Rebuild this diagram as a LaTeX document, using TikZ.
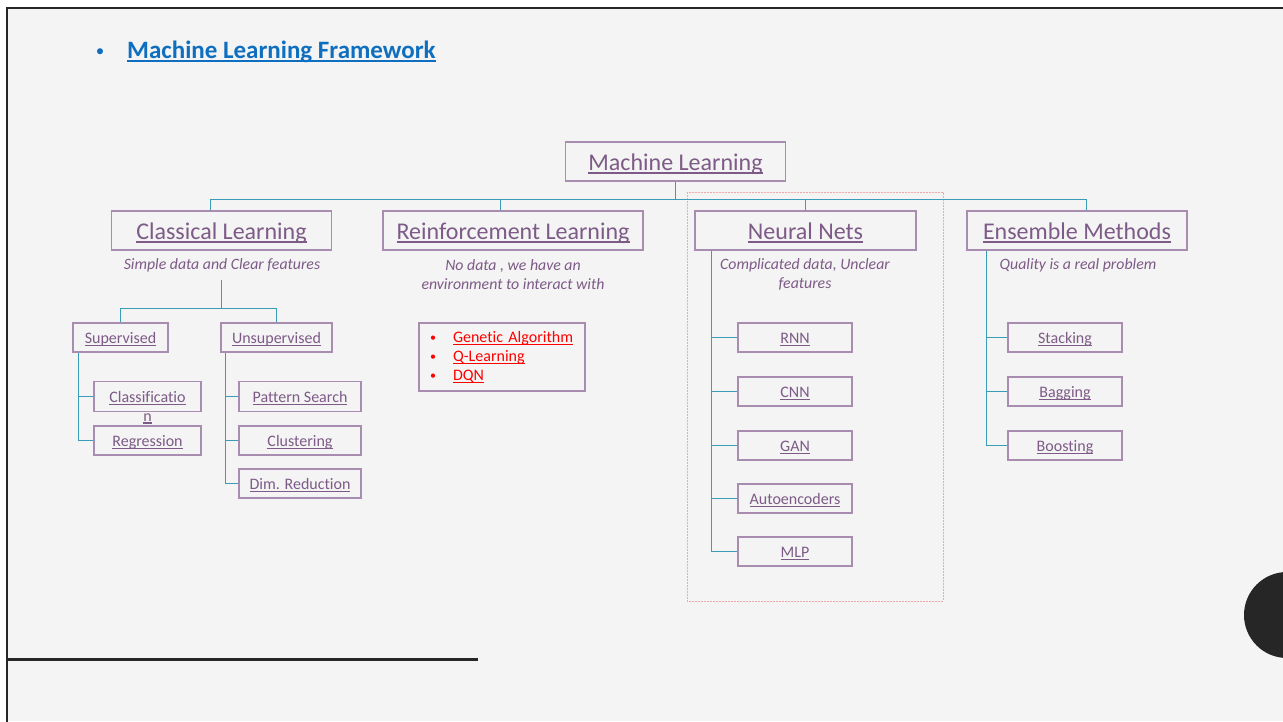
\documentclass[tikz,border=0pt]{standalone}
\usepackage{fontspec}
\setmainfont{Carlito}[Ligatures=NoCommon]
\usetikzlibrary{calc}
% underline drawn as a rule a little below the baseline
\newcommand{\undl}[1]{\leavevmode\setbox0=\hbox{#1}\rlap{\vrule height -0.09em depth 0.16em width \wd0}\box0}
\newcommand{\smallbul}{\raisebox{1pt}{\fontsize{12}{12}\selectfont\textbullet}}
\definecolor{pagebg}{HTML}{F4F4F4}
\definecolor{ink}{HTML}{262626}
\definecolor{txtc}{HTML}{7D5A87}
\definecolor{boxc}{HTML}{A98DB0}
\definecolor{connc}{HTML}{3B9CBA}
\definecolor{titlec}{HTML}{0E6FC0}
\definecolor{pinkc}{HTML}{F2A9A9}
\definecolor{redc}{HTML}{FF0000}
\tikzset{
  boxbase/.style={draw=boxc, line width=1.2pt, text=txtc, inner sep=0pt},
  toplvl/.style={boxbase, font=\fontsize{24}{28}\selectfont, minimum width=#1, minimum height=39,
                 text height=17pt, text depth=0pt},
  leaf/.style={boxbase, font=\fontsize{16}{19}\selectfont, minimum width=#1, minimum height=29,
               text height=11.6pt, text depth=0pt},
  subtitle/.style={text=txtc, font=\fontsize{15.8}{19}\selectfont\itshape, align=center, inner sep=0pt},
  conn/.style={draw=connc, line width=1pt},
  pinkdash/.style={draw=pinkc, line width=0.8pt, dash pattern=on 2pt off 1pt},
}
\begin{document}
\begin{tikzpicture}[x=1pt,y=-1pt]
\useasboundingbox (0,0) rectangle (1283,721);
\begin{scope}
\clip (0,0) rectangle (1283,721);
% page and frame
\fill[white] (0,0) rectangle (1283,721);
\fill[pagebg] (7,8) rectangle (1283,721);
\draw[ink, line width=2.2pt] (7,722) -- (7,8) -- (1284,8);
\fill[ink] (7,657.5) rectangle (478,660.5);
\fill[ink] (1287,615) circle (43);
\end{scope}

% heading
\node[text=titlec, font=\fontsize{17}{20}\selectfont, inner sep=0pt, anchor=base] (hb) at (100,56) {\textbullet};
\node[text=titlec, font=\fontsize{25}{30}\selectfont\bfseries, anchor=base west, inner sep=0pt] (title) at (127,58) {\undl{Machine Learning Framework}};

% dashed frame around the neural-network branch
\draw[pinkdash] (687,192) rectangle (943,601);

% top level
\node[toplvl=220] (ml) at (675.5,161.5) {\undl{Machine Learning}};
\node[toplvl=220] (cl) at (221.5,230.5) {\undl{Classical Learning}};
\node[toplvl=260] (rl) at (513,230.5) {\undl{Reinforcement Learning}};
\node[toplvl=221] (nn) at (805.5,230.5) {\undl{Neural Nets}};
\node[toplvl=220] (en) at (1077,230.5) {\undl{Ensemble Methods}};

% descriptions
\node[subtitle] (clsub) at (222,265) {Simple data and Clear features};
\node[subtitle] (rlsub) at (513,274.5) {No data , we have an\\environment to interact with};
\node[subtitle] (nnsub) at (805,274.5) {Complicated data, Unclear\\features};
\node[subtitle] (ensub) at (1078,265) {Quality is a real problem};

% classical learning subtree
\node[leaf=95] (sup) at (120.5,337.5) {\undl{Supervised}};
\node[leaf=111] (unsup) at (276.5,337.5) {\undl{Unsupervised}};
\node[leaf=107, minimum height=30] (cls) at (147.5,396.5) {\undl{Classificatio}};
\node[text=txtc, font=\fontsize{16}{19}\selectfont, inner sep=0pt, anchor=base] (clsn) at (147.5,421) {\undl{n}};
\node[leaf=107] (reg) at (147.5,440.5) {\undl{Regression}};
\node[leaf=122, minimum height=30] (pat) at (300,396.5) {\undl{Pattern Search}};
\node[leaf=122] (clu) at (300,440.5) {\undl{Clustering}};
\node[leaf=122] (dim) at (300,483.5) {\undl{Dim. Reduction}};

% reinforcement learning list
\node[boxbase, minimum width=166, minimum height=68, text width=150, align=left,
      inner xsep=8pt, text=redc, font=\fontsize{16}{19}\selectfont] (rlist) at (502,357)
  {\makebox[26pt][l]{\hspace{3pt}\smallbul}\undl{Genetic Algorithm}\\
   \makebox[26pt][l]{\hspace{3pt}\smallbul}\undl{Q-Learning}\\
   \makebox[26pt][l]{\hspace{3pt}\smallbul}\undl{DQN}};

% neural nets subtree
\node[leaf=114] (rnn) at (795,337.5) {\undl{RNN}};
\node[leaf=114] (cnn) at (795,391.5) {\undl{CNN}};
\node[leaf=114] (gan) at (795,445.5) {\undl{GAN}};
\node[leaf=114] (ae) at (795,498.5) {\undl{Autoencoders}};
\node[leaf=114] (mlp) at (795,551.5) {\undl{MLP}};

% ensemble subtree
\node[leaf=114] (stk) at (1065,337.5) {\undl{Stacking}};
\node[leaf=114] (bag) at (1065,391.5) {\undl{Bagging}};
\node[leaf=114] (bst) at (1065,445.5) {\undl{Boosting}};

% connectors: root bus
\coordinate (mlj) at ($(ml.south)+(0,17.5)$);
\coordinate (clt) at ($(cl.north west)+(100,0)$);
\coordinate (rlt) at ($(rl.north west)+(118.5,0)$);
\coordinate (ent) at ($(en.north west)+(120.5,0)$);
\draw[conn] (ml.south) -- (mlj);
\draw[conn] (clt) |- (mlj) -| (ent);
\draw[conn] (rlt) -- (rlt |- mlj);
\draw[conn] (nn.north) -- (nn.north |- mlj);

% connectors: classical learning
\coordinate (clj) at ($(cl.south)+(0,29)$);
\coordinate (clbus) at ($(cl.south)+(0,57.5)$);
\draw[conn] (clj) -- (clbus);
\draw[conn] (sup.north) |- (clbus) -| (unsup.north);
\coordinate (sv) at ($(sup.south west)+(6.5,0)$);
\draw[conn] (sv) |- (reg.west);
\draw[conn] (cls.west) -- (cls.west -| sv);
\coordinate (uv) at ($(unsup.south west)+(5.5,0)$);
\draw[conn] (uv) |- (dim.west);
\draw[conn] (pat.west) -- (pat.west -| uv);
\draw[conn] (clu.west) -- (clu.west -| uv);

% connectors: neural nets
\coordinate (nv) at ($(nn.south west)+(17.5,0)$);
\draw[conn] (nv) |- (mlp.west);
\foreach \n in {rnn,cnn,gan,ae} \draw[conn] (\n.west) -- (\n.west -| nv);

% connectors: ensemble methods
\coordinate (ev) at ($(en.south west)+(20.5,0)$);
\draw[conn] (ev) |- (bst.west);
\foreach \n in {stk,bag} \draw[conn] (\n.west) -- (\n.west -| ev);
\end{tikzpicture}
\end{document}
